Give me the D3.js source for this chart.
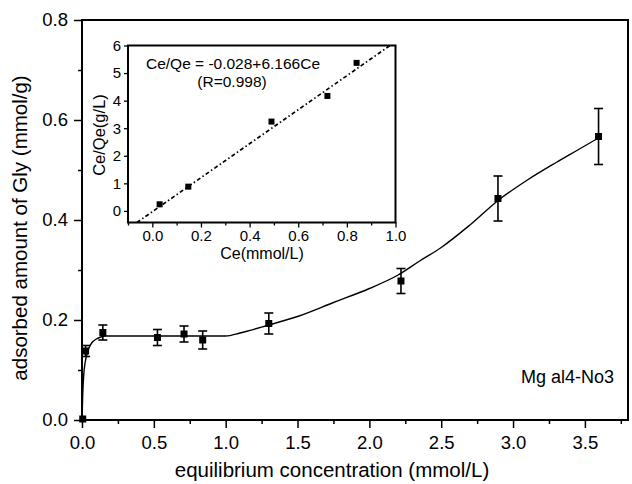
<!DOCTYPE html>
<html>
<head>
<meta charset="utf-8">
<script src="https://cdn.jsdelivr.net/npm/d3@7"></script>
<style>
  html, body { margin: 0; padding: 0; background: #fff; }
  svg text { font-family: "Liberation Sans", Arial, Helvetica, sans-serif; fill: #000; }
</style>
</head>
<body>
<svg id="chart" width="632" height="484"></svg>
<script>
// Glycine adsorption isotherm on Mg-Al4-NO3: measured points with error bars
const ce = [0.005, 0.025, 0.145, 0.525, 0.71, 0.84, 1.30, 2.22, 2.895, 3.595];
const qe = [0.002, 0.138, 0.175, 0.165, 0.172, 0.16, 0.193, 0.278, 0.443, 0.567];
const qeErr = [0, 0.011, 0.015, 0.016, 0.016, 0.018, 0.021, 0.025, 0.045, 0.056];

// Fitted isotherm curve
const fitCe = [0, 0.005, 0.012, 0.022, 0.035, 0.05, 0.07, 0.1, 0.13, 0.17, 0.25, 0.6, 1.0, 1.1, 1.3, 1.5, 1.75, 2.0, 2.2, 2.35, 2.5, 2.7, 2.9, 3.1, 3.3, 3.45, 3.6];
const fitQe = [0, 0.05, 0.09, 0.115, 0.132, 0.145, 0.155, 0.162, 0.166, 0.168, 0.168, 0.168, 0.168, 0.174, 0.19, 0.207, 0.235, 0.263, 0.29, 0.318, 0.345, 0.39, 0.44, 0.48, 0.515, 0.54, 0.565];

// Linearised Langmuir plot (inset)
const insetCe = [0.03, 0.148, 0.49, 0.72, 0.84];
const insetRatio = [0.24, 0.88, 3.24, 4.17, 5.37];
const fitIntercept = -0.028;
const fitSlope = 6.166;

const xMajor = [0, 0.5, 1.0, 1.5, 2.0, 2.5, 3.0, 3.5];
const xMinor = [0.25, 0.75, 1.25, 1.75, 2.25, 2.75, 3.25, 3.75];
const yMajor = [0, 0.2, 0.4, 0.6, 0.8];
const yMinor = [0.1, 0.3, 0.5, 0.7];
const insetXMajor = [0, 0.2, 0.4, 0.6, 0.8, 1.0];
const insetXMinor = [-0.1, 0.1, 0.3, 0.5, 0.7, 0.9];
const insetYMajor = [0, 1, 2, 3, 4, 5, 6];

const svg = d3.select("#chart");

// ---------- main plot ----------
const x = d3.scaleLinear().domain([0, 3.8]).range([82, 628]);
const y = d3.scaleLinear().domain([0, 0.8]).range([420, 20]);

const fmt1 = d3.format(".1f");

// frame
svg.append("rect")
  .attr("x", x(0)).attr("y", y(0.8))
  .attr("width", x(3.8) - x(0)).attr("height", y(0) - y(0.8))
  .attr("fill", "none").attr("stroke", "#000").attr("stroke-width", 2);

const xAxis = svg.append("g").attr("transform", `translate(0,${y(0)})`)
  .call(d3.axisBottom(x).tickValues(xMajor).tickFormat(fmt1).tickSize(8).tickPadding(8));
const xAxisMinor = svg.append("g").attr("transform", `translate(0,${y(0)})`)
  .call(d3.axisBottom(x).tickValues(xMinor).tickFormat("").tickSize(4));
const yAxis = svg.append("g").attr("transform", `translate(${x(0)},0)`)
  .call(d3.axisLeft(y).tickValues(yMajor).tickFormat(fmt1).tickSize(8).tickPadding(6));
const yAxisMinor = svg.append("g").attr("transform", `translate(${x(0)},0)`)
  .call(d3.axisLeft(y).tickValues(yMinor).tickFormat("").tickSize(4));

[xAxis, xAxisMinor, yAxis, yAxisMinor].forEach(g => {
  g.select(".domain").remove();
  g.selectAll(".tick line").attr("stroke", "#000").attr("stroke-width", 1.5);
  g.selectAll("text").attr("font-size", 18.5).style("font-family", "Liberation Sans, Arial, sans-serif");
});

svg.append("text")
  .attr("x", 332).attr("y", 477)
  .attr("text-anchor", "middle").attr("font-size", 20.5)
  .text("equilibrium concentration (mmol/L)");

svg.append("text")
  .attr("transform", "translate(27,228) rotate(-90)")
  .attr("text-anchor", "middle").attr("font-size", 20.5)
  .text("adsorbed amount of Gly (mmol/g)");

// fitted curve
const fitData = fitCe.map((c, i) => [c, fitQe[i]]);
svg.append("path")
  .datum(fitData)
  .attr("fill", "none").attr("stroke", "#000").attr("stroke-width", 1.4)
  .attr("d", d3.line().x(d => x(d[0])).y(d => y(d[1])).curve(d3.curveMonotoneX));

// error bars
const pts = ce.map((c, i) => ({ c, q: qe[i], e: qeErr[i] }));
const eb = svg.append("g").attr("stroke", "#000").attr("stroke-width", 1.6);
pts.filter(d => d.e > 0).forEach(d => {
  eb.append("line").attr("x1", x(d.c)).attr("x2", x(d.c))
    .attr("y1", y(d.q - d.e)).attr("y2", y(d.q + d.e));
  [d.q - d.e, d.q + d.e].forEach(v => {
    eb.append("line").attr("x1", x(d.c) - 4.5).attr("x2", x(d.c) + 4.5)
      .attr("y1", y(v)).attr("y2", y(v));
  });
});

// markers
svg.append("g").selectAll("rect").data(pts).join("rect")
  .attr("x", d => x(d.c) - 3.5).attr("y", d => y(d.q) - 3.5)
  .attr("width", 7).attr("height", 7).attr("fill", "#000");

svg.append("text")
  .attr("x", 614).attr("y", 383)
  .attr("text-anchor", "end").attr("font-size", 18)
  .text("Mg al4-No3");

// ---------- inset ----------
const ix = d3.scaleLinear().domain([-0.1, 1.0]).range([128, 395.5]);
const iy = d3.scaleLinear().domain([-0.42, 6]).range([222.5, 45.5]);

svg.append("rect")
  .attr("x", ix(-0.1)).attr("y", iy(6))
  .attr("width", ix(1.0) - ix(-0.1)).attr("height", iy(-0.42) - iy(6))
  .attr("fill", "#fff").attr("stroke", "#000").attr("stroke-width", 2);

const ixAxis = svg.append("g").attr("transform", `translate(0,${iy(-0.42)})`)
  .call(d3.axisBottom(ix).tickValues(insetXMajor).tickFormat(fmt1).tickSize(5).tickPadding(3));
const ixAxisMinor = svg.append("g").attr("transform", `translate(0,${iy(-0.42)})`)
  .call(d3.axisBottom(ix).tickValues(insetXMinor).tickFormat("").tickSize(3));
const iyAxis = svg.append("g").attr("transform", `translate(${ix(-0.1)},0)`)
  .call(d3.axisLeft(iy).tickValues(insetYMajor).tickFormat(d3.format("d")).tickSize(4).tickPadding(3));

[ixAxis, ixAxisMinor, iyAxis].forEach(g => {
  g.select(".domain").remove();
  g.selectAll(".tick line").attr("stroke", "#000").attr("stroke-width", 1.3);
  g.selectAll("text").attr("font-size", 15).style("font-family", "Liberation Sans, Arial, sans-serif");
});

svg.append("text")
  .attr("x", 262).attr("y", 258.5)
  .attr("text-anchor", "middle").attr("font-size", 16)
  .text("Ce(mmol/L)");

svg.append("text")
  .attr("transform", "translate(105,135) rotate(-90)")
  .attr("text-anchor", "middle").attr("font-size", 16.5)
  .text("Ce/Qe(g/L)");

// linear fit line across the inset frame
const lineX0 = (-0.42 - fitIntercept) / fitSlope;
const lineX1 = (6 - fitIntercept) / fitSlope;
svg.append("path")
  .datum([lineX0, lineX1])
  .attr("fill", "none").attr("stroke", "#000").attr("stroke-width", 1.7)
  .attr("stroke-dasharray", "4,2.5,1.5,2.5")
  .attr("d", d3.line().x(d => ix(d)).y(d => iy(fitIntercept + fitSlope * d)));

svg.append("g").selectAll("rect").data(insetCe.map((c, i) => [c, insetRatio[i]])).join("rect")
  .attr("x", d => ix(d[0]) - 3).attr("y", d => iy(d[1]) - 3)
  .attr("width", 6).attr("height", 6).attr("fill", "#000");

svg.append("text")
  .attr("x", 233).attr("y", 68.5)
  .attr("text-anchor", "middle").attr("font-size", 15.5)
  .text("Ce/Qe = -0.028+6.166Ce");
svg.append("text")
  .attr("x", 232).attr("y", 86.5)
  .attr("text-anchor", "middle").attr("font-size", 15.5)
  .text("(R=0.998)");
</script>
</body>
</html>
